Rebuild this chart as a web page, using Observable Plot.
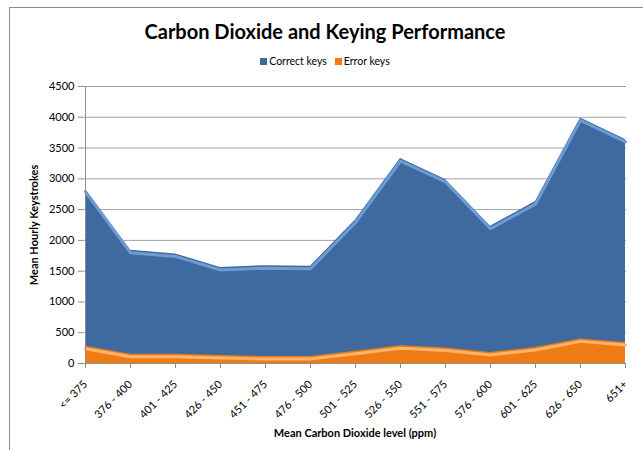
<!DOCTYPE html>
<html>
<head>
<meta charset="utf-8">
<script src="https://cdn.jsdelivr.net/npm/d3@7"></script>
<script src="https://cdn.jsdelivr.net/npm/@observablehq/plot@0.6"></script>
<style>
  body { margin: 0; background: #fff; font-family: Lato, "Open Sans", sans-serif; overflow: hidden; }
  #frame { position: absolute; left: 9px; top: 7px; width: 700px; height: 500px; border-left: 1px solid #8c8c8c; border-top: 1px solid #8c8c8c; }
  #title { position: absolute; top: 19px; left: 0; width: 650px; text-align: center; font-weight: bold; font-size: 20px; color: #000; }
  #legend { position: absolute; top: 55px; left: 0; width: 650px; text-align: center; font-size: 10.5px; color: #000; }
  #legend span.sw { display: inline-block; width: 7px; height: 7px; margin-right: 2px; vertical-align: 0px; }
  #legend span.item { margin: 0 4px; }
  #chart { position: absolute; top: 75px; left: 0; }
</style>
</head>
<body>
<div id="frame"></div>
<div id="title">Carbon Dioxide and Keying Performance</div>
<div id="legend"></div>
<div id="chart"></div>
<script>
const categories = ["<= 375", "376 - 400", "401 - 425", "426 - 450", "451 - 475", "476 - 500", "501 - 525", "526 - 550", "551 - 575", "576 - 600", "601 - 625", "626 - 650", "651+"];
const correctKeys = [2830, 1840, 1780, 1560, 1590, 1580, 2330, 3330, 2990, 2230, 2630, 3990, 3640];
const errorKeys = [280, 150, 150, 130, 115, 115, 200, 290, 250, 180, 260, 400, 340];
const yTicks = [0, 500, 1000, 1500, 2000, 2500, 3000, 3500, 4000, 4500];
const seriesNames = ["Correct keys", "Error keys"];
const seriesColors = ["#3e6a9f", "#ef7b14"];

const data = categories.map((c, i) => ({cat: c, correct: correctKeys[i], error: errorKeys[i]}));

const legend = document.getElementById("legend");
seriesNames.forEach((n, i) => {
  const it = document.createElement("span");
  it.className = "item";
  it.innerHTML = `<span class="sw" style="background:${seriesColors[i]}"></span>${n}`;
  legend.appendChild(it);
});

const chart = Plot.plot({
  width: 643,
  height: 375,
  marginLeft: 83,
  marginRight: 17,
  marginTop: 11,
  marginBottom: 87,
  style: {fontFamily: "Lato, 'Open Sans', sans-serif", background: "transparent"},
  x: {type: "point", domain: categories, padding: 0, label: null},
  y: {domain: [0, 4500], label: null},
  marks: [
    Plot.gridY(yTicks, {stroke: "#a0a0a0", strokeOpacity: 1}),
    Plot.areaY(data, {x: "cat", y: "correct", fill: seriesColors[0], curve: "linear"}),
    Plot.lineY(data, {x: "cat", y: "correct", stroke: "#6f9bd3", strokeWidth: 3, dy: 2.5}),
    Plot.areaY(data, {x: "cat", y: "error", fill: seriesColors[1], curve: "linear"}),
    Plot.lineY(data, {x: "cat", y: "error", stroke: "#fbb46c", strokeWidth: 3, dy: 2.5}),
    Plot.ruleY([0], {stroke: "#8c8c8c"}),
    Plot.ruleX([categories[0]], {stroke: "#8c8c8c"}),
    Plot.axisY(yTicks, {tickSize: 5, tickPadding: 4, fontSize: 11, stroke: "#8c8c8c", fill: "#000", label: null, tickFormat: d3.format("d")}),
    Plot.axisX({tickSize: 5, tickPadding: 14, tickRotate: -45, fontSize: 11, stroke: "#8c8c8c", fill: "#000", label: null}),
    Plot.text(["Mean Carbon Dioxide level (ppm)"], {frameAnchor: "bottom", textAnchor: "middle", dy: 73, fontWeight: "bold", fontSize: 11, fill: "#000"}),
    Plot.text(["Mean Hourly Keystrokes"], {frameAnchor: "left", textAnchor: "middle", dx: -49, rotate: -90, fontWeight: "bold", fontSize: 11, fill: "#000"})
  ]
});
document.getElementById("chart").appendChild(chart);
</script>
</body>
</html>
